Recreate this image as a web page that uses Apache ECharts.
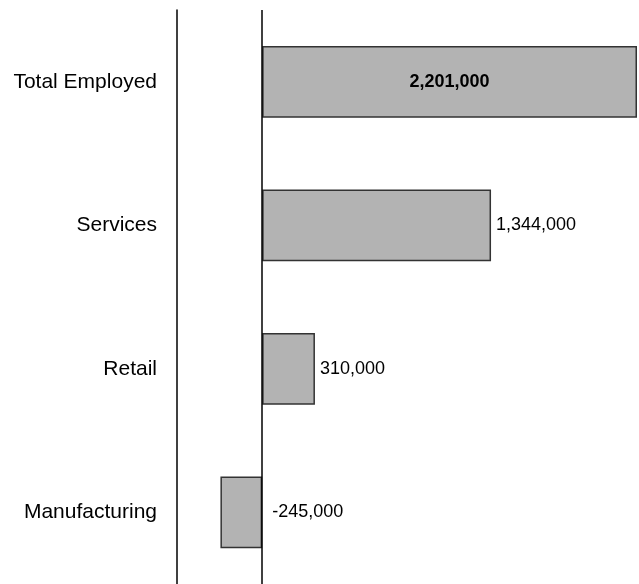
<!DOCTYPE html>
<html>
<head>
<meta charset="utf-8">
<script src="https://cdn.jsdelivr.net/npm/echarts@6/dist/echarts.min.js"></script>
<style>
  html, body { margin: 0; padding: 0; background: #fff; }
  #root { width: 639px; height: 584px; }
</style>
</head>
<body>
<div id="root"></div>
<script>
// categories, top to bottom
var categories = ['Total Employed', 'Services', 'Retail', 'Manufacturing']
var values = [2201000, 1344000, 310000, -245000]

var fmt = function (v) {
  return v.toLocaleString('en-US')
}

var chart = echarts.init(document.getElementById('root'))

var seriesData = values.map(function (v, i) {
  var item = { value: v }
  if (i === 0) {
    // total gets a bold label inside the bar
    item.label = { position: 'inside', fontWeight: 'bold' }
  }
  if (v < 0) {
    item.label = { position: 'right', distance: 10 }
  }
  return item
})

var option = {
  backgroundColor: '#fff',
  animation: false,
  grid: { left: 177, right: 2, top: 10, height: 578 },
  xAxis: {
    type: 'value',
    min: -500000,
    max: 2201000,
    show: false,
    splitLine: { show: false }
  },
  yAxis: {
    type: 'category',
    data: categories,
    inverse: true,
    axisLine: { onZero: false, lineStyle: { color: '#000', width: 1.5 } },
    axisTick: { show: false },
    axisLabel: {
      margin: 20,
      fontSize: 21,
      color: '#000',
      fontFamily: 'Liberation Sans, Arial, sans-serif'
    }
  },
  series: [{
    type: 'bar',
    data: seriesData,
    barWidth: '50%',
    itemStyle: { color: '#b3b3b3', borderColor: '#333', borderWidth: 1.5 },
    label: {
      show: true,
      position: 'right',
      distance: 5,
      fontSize: 18,
      color: '#000',
      fontFamily: 'Liberation Sans, Arial, sans-serif',
      formatter: function (p) { return fmt(p.value) }
    },
    markLine: {
      silent: true,
      symbol: 'none',
      label: { show: false },
      lineStyle: { color: '#000', type: 'solid', width: 1.5 },
      data: [{ xAxis: 0 }]
    }
  }]
}

chart.setOption(option)
</script>
</body>
</html>
